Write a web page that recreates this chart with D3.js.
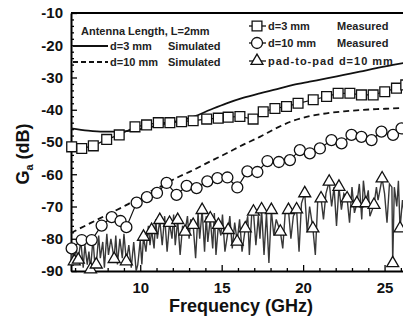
<!DOCTYPE html>
<html>
<head>
<meta charset="utf-8">
<script src="https://cdn.jsdelivr.net/npm/d3@7"></script>
<style>
  html, body { margin: 0; padding: 0; background: #fff; }
  svg { display: block; font-family: "Liberation Sans", Arial, sans-serif; }
</style>
</head>
<body>
<svg id="chart" width="403" height="320"></svg>
<script>
// values, [frequency (GHz), Ga (dB)]
const sim3mm = [[5.75,-45.8],[6.8,-46.5],[7.73,-46.8],[9.17,-46.6],[10.2,-45.8],[11.21,-44.7],[12.2,-43.6],
  [13.25,-42.2],[14.3,-40.0],[15.3,-38.0],[16.3,-36.3],[17.34,-34.9],[18.4,-33.6],[19.39,-32.3],[20.4,-31.3],
  [21.44,-30.3],[22.5,-29.2],[23.48,-28.2],[24.5,-27.1],[25.52,-26.1],[26.5,-25.2]];

const sim10mm = [[5.75,-78.2],[7.0,-75.0],[8.1,-72.2],[9.17,-69.5],[10.2,-66.4],[11.21,-63.9],[12.2,-61.2],
  [13.25,-58.7],[14.3,-56.0],[15.3,-53.5],[16.3,-50.9],[17.34,-48.4],[18.4,-45.6],[19.39,-43.4],[20.4,-42.0],
  [21.44,-41.1],[22.5,-40.5],[23.48,-40.1],[24.5,-39.8],[25.52,-39.6],[26.5,-39.4]];

const meas3mm = [[5.79,-51.5],[6.41,-52.0],[7.12,-51.2],[7.94,-49.2],[8.71,-47.8],[9.68,-45.3],[10.39,-44.7],
  [11.11,-44.0],[11.82,-44.0],[12.54,-43.7],[13.25,-43.4],[14.08,-42.9],[14.79,-42.6],[15.4,-42.3],[16.12,-42.1],
  [16.93,-42.9],[17.55,-40.6],[18.27,-39.6],[18.98,-39.0],[19.69,-38.0],[20.62,-36.9],[21.44,-35.9],[22.15,-34.9],
  [22.87,-34.9],[23.58,-35.4],[24.3,-35.4],[25.01,-34.4],[25.73,-33.3],[26.3,-32.3]];

const meas10mm = [[5.79,-83.0],[6.41,-80.4],[7.02,-80.4],[7.63,-75.9],[8.25,-73.3],[8.79,-74.5],[9.15,-76.4],
  [9.78,-68.8],[10.41,-67.1],[11.03,-65.8],[11.62,-62.7],[12.23,-66.4],[12.85,-63.6],[13.46,-64.3],[14.12,-62.2],
  [14.74,-61.2],[15.35,-61.0],[15.96,-64.1],[16.58,-59.1],[17.19,-59.3],[17.81,-55.9],[18.51,-56.2],[19.19,-55.6],
  [19.8,-52.5],[20.41,-53.5],[21.03,-52.0],[21.74,-49.4],[22.36,-50.4],[22.97,-47.8],[23.58,-48.4],[24.2,-49.4],
  [24.81,-46.8],[25.52,-47.8],[26.04,-45.8]];

// pad-to-pad trace (dense measurement) and the points that carry a marker
const padTrace = [[5.75,-88],[5.85,-82],[5.95,-87],[6.05,-83],[6.2,-86.5],[6.35,-80.5],[6.5,-89],[6.6,-82],
  [6.75,-88],[6.85,-84],[6.95,-89.5],[7.1,-80],[7.2,-87],[7.3,-88],[7.45,-79],[7.55,-86],[7.7,-81],[7.8,-89],
  [7.95,-78.5],[8.05,-85],[8.2,-80],[8.4,-86.3],[8.5,-79],[8.6,-88],[8.75,-80],[8.9,-86],[9.0,-78.5],[9.15,-87],
  [9.3,-82],[9.45,-89],[9.6,-81],[9.75,-90],[9.85,-88],[10.0,-80.5],[10.1,-88],[10.2,-79.4],[10.35,-84],[10.5,-76],
  [10.6,-82],[10.7,-77.3],[10.85,-83],[10.95,-74],[11.05,-80],[11.2,-74.2],[11.35,-82],[11.5,-73],[11.65,-84],
  [11.8,-75.1],[11.95,-80],[12.05,-72.5],[12.15,-82],[12.3,-74.2],[12.45,-85],[12.6,-76],[12.75,-77.8],[12.9,-73],
  [13.0,-80],[13.1,-74],[13.25,-75.7],[13.4,-86],[13.55,-72],[13.65,-80],[13.8,-71.1],[13.95,-84],[14.05,-73],
  [14.15,-81],[14.3,-73.7],[14.45,-83],[14.55,-72],[14.65,-85],[14.8,-75.7],[14.95,-79],[15.05,-72.5],[15.2,-84],
  [15.4,-77.3],[15.5,-73],[15.65,-83],[15.8,-75],[15.95,-80.9],[16.1,-74],[16.25,-84],[16.45,-76.8],[16.6,-73],
  [16.7,-85],[16.85,-72],[16.95,-71.6],[17.1,-82],[17.25,-73],[17.35,-80],[17.45,-70.9],[17.6,-85],[17.75,-72],
  [17.9,-87.5],[18.05,-71.1],[18.2,-79],[18.35,-74],[18.6,-77.8],[18.75,-83],[18.9,-72],[19.1,-71.1],[19.25,-80],
  [19.4,-73],[19.6,-70.9],[19.75,-84],[19.9,-69],[20.1,-65.9],[20.25,-78],[20.4,-70],[20.6,-76.8],[20.75,-85],
  [20.9,-68],[21.1,-67.5],[21.25,-74],[21.4,-66],[21.6,-62.3],[21.75,-70],[21.9,-64],[22.05,-76],[22.2,-63.9],
  [22.35,-71],[22.5,-66],[22.7,-67.5],[22.85,-75],[23.0,-64],[23.15,-72],[23.3,-69],[23.45,-63],[23.6,-74],
  [23.7,-62],[23.85,-69],[24.0,-65],[24.1,-73],[24.35,-69.5],[24.5,-64],[24.6,-68],[24.85,-61.3],[25.0,-66],
  [25.15,-75],[25.3,-63],[25.45,-64],[25.5,-87.6],[25.6,-64],[25.75,-70],[25.85,-62],[25.95,-76.8],[26.1,-68],
  [26.25,-74]];

const padMarks = [[5.95,-87],[6.2,-86.5],[6.95,-89.5],[7.3,-88],[8.4,-86.3],[9.15,-87],[10.2,-79.4],[10.7,-77.3],
  [11.2,-74.2],[11.8,-75.1],[12.3,-74.2],[12.75,-77.8],[13.25,-75.7],[13.8,-71.1],[14.3,-73.7],[14.8,-75.7],
  [15.4,-77.3],[15.95,-80.9],[16.45,-76.8],[16.95,-71.6],[17.45,-70.9],[18.05,-71.1],[18.6,-77.8],[19.1,-71.1],
  [19.6,-70.9],[20.1,-65.9],[20.6,-76.8],[21.1,-67.5],[21.6,-62.3],[22.2,-63.9],[22.7,-67.5],[23.3,-69.0],
  [23.85,-69.0],[24.35,-69.5],[24.85,-61.3],[25.5,-87.6],[25.95,-76.8]];

const xTicks = [10, 15, 20, 25];
const xMinor = [6,7,8,9,11,12,13,14,16,17,18,19,21,22,23,24,26];
const yTicks = [-90, -80, -70, -60, -50, -40, -30, -20, -10];
const yMinor = d3.range(-88, -10, 2).filter(v => v % 10 !== 0);

const svg = d3.select('#chart');
const plot = {left: 71, top: 13, right: 409, bottom: 271};

const x = d3.scaleLinear().domain([5.75, 26.5]).range([plot.left, plot.right]);
const y = d3.scaleLinear().domain([-90, -10]).range([plot.bottom, plot.top]);

const line = d3.line().x(d => x(d[0])).y(d => y(d[1]));
const smooth = d3.line().x(d => x(d[0])).y(d => y(d[1])).curve(d3.curveMonotoneX);

// axes, ticks pointing inward
svg.append('g').attr('transform', 'translate(' + plot.left + ',0)')
  .call(d3.axisLeft(y).tickValues(yTicks).tickSizeInner(-6).tickSizeOuter(0).tickPadding(8)
    .tickFormat(d => String(d)));
svg.append('g').attr('transform', 'translate(' + plot.left + ',0)')
  .call(d3.axisLeft(y).tickValues(yMinor).tickSizeInner(-3).tickSizeOuter(0).tickFormat(''))
  .select('.domain').remove();

svg.append('g').attr('transform', 'translate(0,' + plot.bottom + ')')
  .call(d3.axisBottom(x).tickValues(xTicks).tickSizeInner(-6).tickSizeOuter(0).tickPadding(11));
svg.append('g').attr('transform', 'translate(0,' + plot.bottom + ')')
  .call(d3.axisBottom(x).tickValues(xMinor).tickSizeInner(-3).tickSizeOuter(0).tickFormat(''))
  .select('.domain').remove();

svg.selectAll('.domain').attr('stroke', '#000').attr('stroke-width', 2);
svg.selectAll('.tick line').attr('stroke', '#000').attr('stroke-width', 1.3);
svg.selectAll('.tick text').attr('fill', '#111')
  .style('font-size', '15px').style('font-weight', 'bold').style('font-family', '"Liberation Sans", Arial, sans-serif');

// top frame
svg.append('line')
  .attr('x1', plot.left).attr('x2', plot.right).attr('y1', plot.top).attr('y2', plot.top)
  .attr('stroke', '#000').attr('stroke-width', 2);

// pad-to-pad trace and markers
svg.append('path').datum(padTrace)
  .attr('d', line).attr('fill', 'none').attr('stroke', '#383838').attr('stroke-width', 1.4);

const tri = d3.symbol(d3.symbolTriangle, 62);
const sq = d3.symbol(d3.symbolSquare, 96);
const circ = d3.symbol(d3.symbolCircle, 95);

svg.append('g').selectAll('path').data(padMarks).enter().append('path')
  .attr('d', tri).attr('transform', d => 'translate(' + x(d[0]) + ',' + y(d[1]) + ')')
  .attr('fill', '#fff').attr('stroke', '#111').attr('stroke-width', 1.3);

// simulated curves
svg.append('path').datum(sim10mm)
  .attr('d', smooth).attr('fill', 'none').attr('stroke', '#111').attr('stroke-width', 1.8)
  .attr('stroke-dasharray', '6,4');
svg.append('path').datum(sim3mm)
  .attr('d', smooth).attr('fill', 'none').attr('stroke', '#111').attr('stroke-width', 1.8);

// measured d=10 mm
svg.append('path').datum(meas10mm)
  .attr('d', line).attr('fill', 'none').attr('stroke', '#111').attr('stroke-width', 1.2);
svg.append('g').selectAll('path').data(meas10mm).enter().append('path')
  .attr('d', circ).attr('transform', d => 'translate(' + x(d[0]) + ',' + y(d[1]) + ')')
  .attr('fill', '#fff').attr('stroke', '#111').attr('stroke-width', 1.3);

// measured d=3 mm
svg.append('path').datum(meas3mm)
  .attr('d', line).attr('fill', 'none').attr('stroke', '#111').attr('stroke-width', 1.2);
svg.append('g').selectAll('path').data(meas3mm).enter().append('path')
  .attr('d', sq).attr('transform', d => 'translate(' + x(d[0]) + ',' + y(d[1]) + ')')
  .attr('fill', '#fff').attr('stroke', '#111').attr('stroke-width', 1.3);

// axis titles
svg.append('text')
  .attr('x', 241).attr('y', 312)
  .attr('text-anchor', 'middle')
  .style('font-size', '18px').style('font-weight', 'bold').attr('fill', '#111')
  .text('Frequency (GHz)');

const yl = svg.append('text')
  .attr('transform', 'translate(29,154) rotate(-90)')
  .attr('text-anchor', 'middle')
  .style('font-size', '18px').style('font-weight', 'bold').attr('fill', '#111');
yl.append('tspan').text('G');
yl.append('tspan').attr('dy', 4).style('font-size', '11px').text('a');
yl.append('tspan').attr('dy', -4).text(' (dB)');

// legend, left block
const lg = svg.append('g').style('font-size', '11px').style('font-weight', 'bold').attr('fill', '#222');
lg.append('text').attr('x', 81).attr('y', 35).text('Antenna Length, L=2mm');
lg.append('line').attr('x1', 73).attr('x2', 108).attr('y1', 46).attr('y2', 46)
  .attr('stroke', '#111').attr('stroke-width', 1.8);
lg.append('text').attr('x', 110).attr('y', 50).text('d=3 mm');
lg.append('text').attr('x', 168).attr('y', 50).text('Simulated');
lg.append('line').attr('x1', 73).attr('x2', 108).attr('y1', 62).attr('y2', 62)
  .attr('stroke', '#111').attr('stroke-width', 1.8).attr('stroke-dasharray', '5,3');
lg.append('text').attr('x', 110).attr('y', 66).text('d=10 mm');
lg.append('text').attr('x', 168).attr('y', 66).text('Simulated');

// legend, right block
const rows = [
  {sym: sq, y: 26, label: 'd=3 mm', extra: 'Measured', ls: 0},
  {sym: circ, y: 43, label: 'd=10 mm', extra: 'Measured', ls: 0},
  {sym: tri, y: 61, label: 'pad-to-pad d=10 mm', extra: null, ls: 1}
];
rows.forEach(r => {
  lg.append('line').attr('x1', 249).attr('x2', 266).attr('y1', r.y).attr('y2', r.y)
    .attr('stroke', '#111').attr('stroke-width', 1.3);
  lg.append('path').attr('d', r.sym).attr('transform', 'translate(257,' + r.y + ')')
    .attr('fill', '#fff').attr('stroke', '#111').attr('stroke-width', 1.3);
  lg.append('text').attr('x', 268).attr('y', r.y + 4).style('letter-spacing', r.ls + 'px').text(r.label);
  if (r.extra) lg.append('text').attr('x', 337).attr('y', r.y + 4).text(r.extra);
});
</script>
</body>
</html>
